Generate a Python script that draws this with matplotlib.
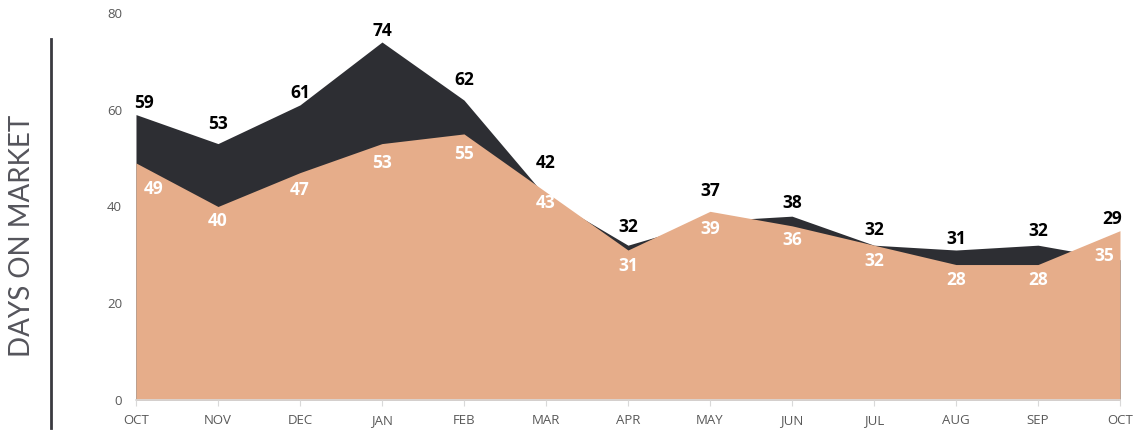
import numpy as np
import matplotlib.pyplot as plt

months = ["OCT", "NOV", "DEC", "JAN", "FEB", "MAR", "APR", "MAY", "JUN", "JUL", "AUG", "SEP", "OCT"]
dark_vals = [59, 53, 61, 74, 62, 42, 32, 37, 38, 32, 31, 32, 29]
peach_vals = [49, 40, 47, 53, 55, 43, 31, 39, 36, 32, 28, 28, 35]

dark_col = "#2d2e33"
peach_col = "#e6ad8a"

# label nudges in pixels (dx, dy) relative to the point / upper envelope
dark_off = [(8, 12), (0, 20), (0, 12), (0, 11), (0, 20), (0, 29), (0, 18),
            (0, 20), (0, 13), (0, 15), (0, 11), (0, 14), (-8, 12)]
peach_off = [(18, -26), (0, -15), (0, -17), (0, -19), (0, -20), (0, -11), (0, -16),
             (0, -18), (0, -14), (0, -16), (0, -15), (0, -15), (-16, -25)]

fig = plt.figure(figsize=(11.36, 4.3), dpi=100)
ax = fig.add_axes([0.1197, 0.0698, 0.8662, 0.9])

x = np.arange(len(months))
ax.fill_between(x, dark_vals, color=dark_col, lw=0)
ax.fill_between(x, peach_vals, color=peach_col, lw=0)

px = 72 / 100  # pixels -> points
for xi, v, pv, (dx, dy) in zip(x, dark_vals, peach_vals, dark_off):
    ax.annotate(str(v), (xi, max(v, pv)), xytext=(dx * px, dy * px), textcoords="offset points",
                ha="center", va="center", fontsize=12.5, fontweight="bold",
                color="black", family="Open Sans")
for xi, v, (dx, dy) in zip(x, peach_vals, peach_off):
    ax.annotate(str(v), (xi, v), xytext=(dx * px, dy * px), textcoords="offset points",
                ha="center", va="center", fontsize=12.5, fontweight="bold",
                color="white", family="Open Sans")

ax.set_xlim(0, len(months) - 1)
ax.set_ylim(0, 80)
ax.set_yticks([0, 20, 40, 60, 80])
ax.set_xticks(x)
ax.set_xticklabels(months)
ax.tick_params(axis="y", length=0, pad=10, labelsize=9.5, labelcolor="#595959")
ax.tick_params(axis="x", length=4, color="#d9d9d9", pad=6, labelsize=9.5, labelcolor="#595959")
for lab in ax.get_xticklabels() + ax.get_yticklabels():
    lab.set_family("Open Sans")

for s in ["top", "right", "left"]:
    ax.spines[s].set_visible(False)
ax.spines["bottom"].set_color("#d9d9d9")
ax.spines["bottom"].set_linewidth(1.2)

# decorative bar + axis title
fig.add_artist(plt.Line2D([51 / 1136, 51 / 1136], [1 - 39 / 430, 1 - 428 / 430],
                          color="#3a3a40", lw=2))
fig.text(22 / 1136, 1 - 236 / 430, "DAYS ON MARKET", rotation=90,
         ha="center", va="center", fontsize=20, color="#55555c", family="Lato")

fig.savefig("out.png", dpi=100)
